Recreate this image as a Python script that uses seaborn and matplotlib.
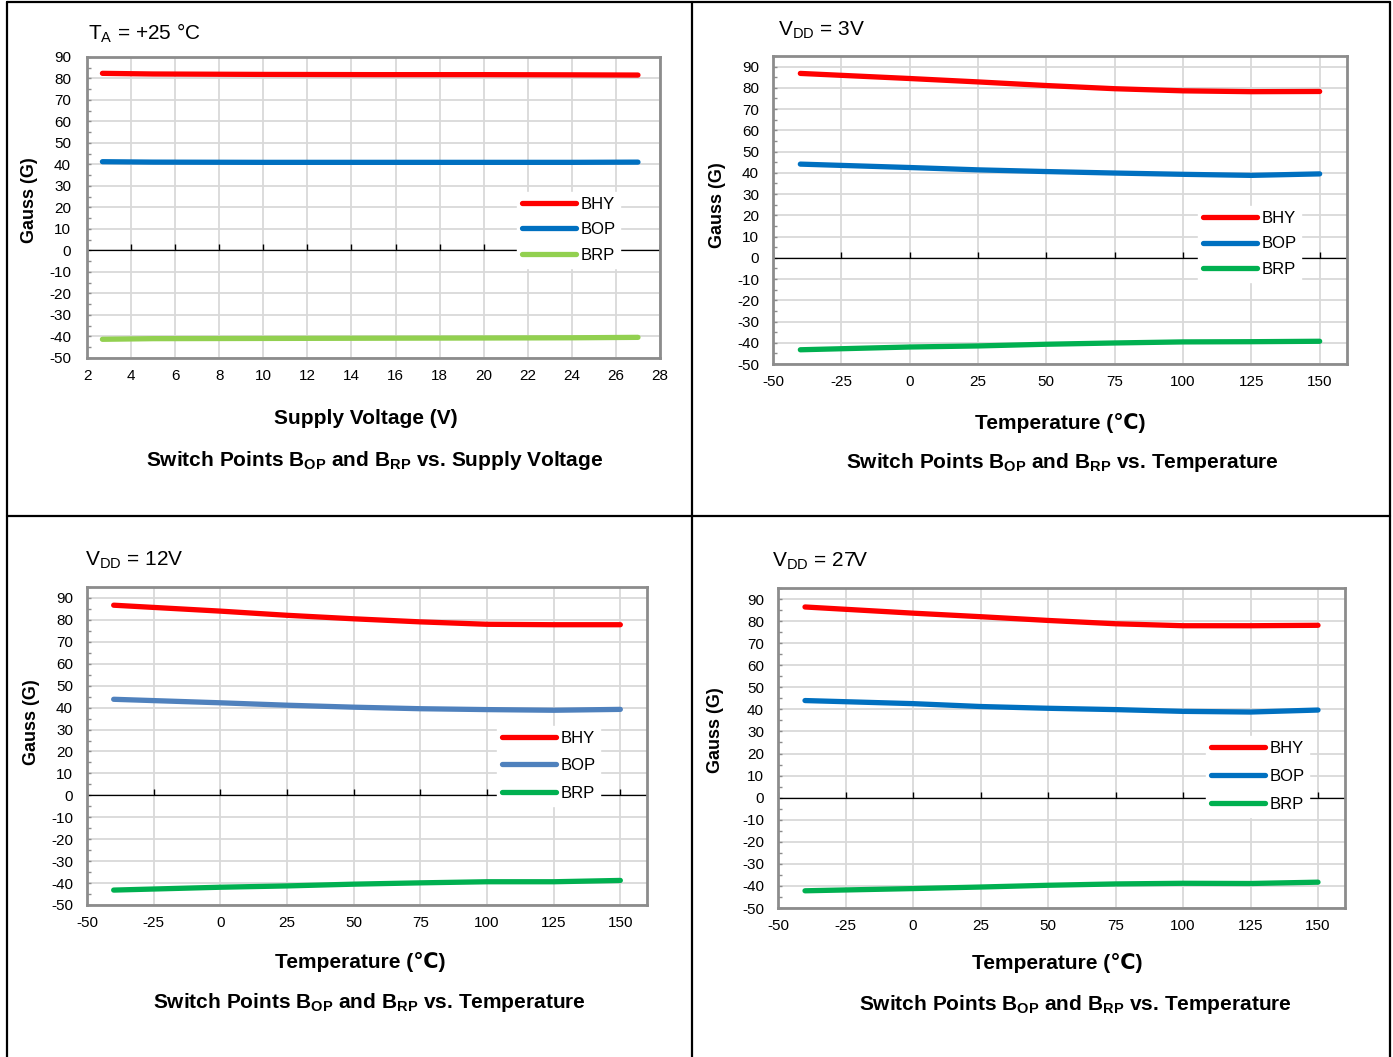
import matplotlib
matplotlib.use("Agg")
import matplotlib.pyplot as plt
import seaborn as sns
import pandas as pd
from matplotlib.lines import Line2D

# Switch points vs supply voltage (TA = +25 C)
volt = [2.7, 5, 10, 15, 20, 24, 27]
bhy_volt = [82.4, 82.1, 81.9, 81.8, 81.8, 81.7, 81.6]
bop_volt = [41.3, 41.1, 41.0, 41.0, 41.0, 41.0, 41.1]
brp_volt = [-41.3, -41.0, -40.9, -40.8, -40.7, -40.6, -40.4]

# Switch points vs temperature
temp = [-40, 0, 25, 50, 75, 100, 125, 150]
bhy_3v = [86.8, 84.4, 82.8, 81.1, 79.6, 78.6, 78.2, 78.3]
bop_3v = [44.1, 42.5, 41.4, 40.6, 39.9, 39.3, 38.8, 39.5]
brp_3v = [-43.3, -42.0, -41.5, -40.7, -40.1, -39.6, -39.5, -39.3]

bhy_12v = [86.7, 84.0, 82.1, 80.5, 79.1, 78.0, 77.8, 77.8]
bop_12v = [43.8, 42.2, 41.1, 40.2, 39.5, 39.1, 38.8, 39.2]
brp_12v = [-43.2, -41.9, -41.3, -40.5, -39.9, -39.4, -39.4, -38.8]

bhy_27v = [86.4, 83.6, 82.0, 80.3, 78.8, 77.9, 77.9, 78.1]
bop_27v = [44.0, 42.6, 41.3, 40.5, 39.9, 39.1, 38.8, 39.7]
brp_27v = [-42.2, -41.2, -40.5, -39.7, -39.1, -38.8, -38.9, -38.3]

series = ["BHY", "BOP", "BRP"]
volt_ticks = list(range(2, 29, 2))
temp_ticks = list(range(-50, 151, 25))
gauss_ticks = list(range(-50, 91, 10))

W, H = 1393, 1057


def fx(px):
    return px / W


def fy(py):
    return 1 - py / H


def make_df(x, vals):
    rows = []
    for name, v in zip(series, vals):
        for xi, yi in zip(x, v):
            rows.append({"x": xi, "G": yi, "series": name})
    return pd.DataFrame(rows)


sns.set_theme(style="white")
plt.rcParams["font.family"] = ["Liberation Sans", "DejaVu Sans"]
plt.rcParams["mathtext.fontset"] = "custom"
plt.rcParams["mathtext.rm"] = "Liberation Sans"
plt.rcParams["mathtext.it"] = "Liberation Sans:italic"
plt.rcParams["mathtext.bf"] = "Liberation Sans:bold"
plt.rcParams["axes.unicode_minus"] = False
plt.rcParams["text.color"] = "black"
plt.rcParams["axes.labelcolor"] = "black"
plt.rcParams["xtick.color"] = "black"
plt.rcParams["ytick.color"] = "black"

fig = plt.figure(figsize=(W / 100, H / 100), dpi=100)
fig.patch.set_facecolor("white")

panels = [
    dict(box=(87, 660, 57, 358), x=volt, vals=[bhy_volt, bop_volt, brp_volt],
         colors=["#FF0000", "#0070C0", "#92D050"], xlim=(2, 28), xticks=volt_ticks, ytop=90,
         corner="T$_\\mathrm{A}$ = +25 °C", corner_xy=(88, 33),
         xlabel="Supply Voltage (V)", xlabel_xy=(366, 418),
         cap="Switch Points B$_\\mathbf{OP}$ and B$_\\mathbf{RP}$ vs. Supply Voltage", cap_xy=(375, 461),
         ylabel_xy=(29, 200), leg=(522, 192), lspace=0.62, ypad=11.5),
    dict(box=(773, 1347, 56, 364), x=temp, vals=[bhy_3v, bop_3v, brp_3v],
         colors=["#FF0000", "#0070C0", "#00B050"], xlim=(-50, 160), xticks=temp_ticks, ytop=95,
         corner="V$_\\mathrm{DD}$ = 3V", corner_xy=(778, 30),
         xlabel="Temperature (℃)", xlabel_xy=(1060, 423),
         cap="Switch Points B$_\\mathbf{OP}$ and B$_\\mathbf{RP}$ vs. Temperature", cap_xy=(1062, 463),
         ylabel_xy=(718, 205), leg=(1203, 206), lspace=0.62, ypad=10),
    dict(box=(87, 647, 587, 905), x=temp, vals=[bhy_12v, bop_12v, brp_12v],
         colors=["#FF0000", "#4F81BD", "#00B050"], xlim=(-50, 160), xticks=temp_ticks, ytop=95,
         corner="V$_\\mathrm{DD}$ = 12V", corner_xy=(85, 560),
         xlabel="Temperature (℃)", xlabel_xy=(360, 962),
         cap="Switch Points B$_\\mathbf{OP}$ and B$_\\mathbf{RP}$ vs. Temperature", cap_xy=(369, 1003),
         ylabel_xy=(31, 722), leg=(502, 726), lspace=0.74, ypad=10),
    dict(box=(778, 1345, 588, 908), x=temp, vals=[bhy_27v, bop_27v, brp_27v],
         colors=["#FF0000", "#0070C0", "#00B050"], xlim=(-50, 160), xticks=temp_ticks, ytop=95,
         corner="V$_\\mathrm{DD}$ = 27V", corner_xy=(772, 561),
         xlabel="Temperature (℃)", xlabel_xy=(1057, 963),
         cap="Switch Points B$_\\mathbf{OP}$ and B$_\\mathbf{RP}$ vs. Temperature", cap_xy=(1075, 1004),
         ylabel_xy=(716, 730), leg=(1211, 736), lspace=0.77, ypad=10),
]

fs_tick = 11
fs_leg = 12
for p in panels:
    l, r, t, b = p["box"]
    ax = fig.add_axes([fx(l), fy(b), (r - l) / W, (b - t) / H])
    df = make_df(p["x"], p["vals"])
    sns.lineplot(data=df, x="x", y="G", hue="series", palette=dict(zip(series, p["colors"])),
                 linewidth=3.8, solid_capstyle="round", sort=False, ax=ax, zorder=3)
    ax.set_xlim(*p["xlim"])
    ax.set_ylim(-50, p["ytop"])
    ax.set_xticks(p["xticks"])
    ax.set_yticks(gauss_ticks)
    ax.set_yticks(range(-50, p["ytop"] + 1, 5), minor=True)
    ax.grid(True, which="major", color="#D9D9D9", lw=1.3, zorder=0)
    ax.set_axisbelow(True)
    for s in ax.spines.values():
        s.set_color("#8C8C8C")
        s.set_linewidth(2.0)
    ax.tick_params(axis="x", length=0, pad=8, labelsize=fs_tick, labelcolor="black")
    ax.tick_params(axis="y", which="both", direction="in", length=3, width=1, color="#8C8C8C",
                   pad=p["ypad"], labelsize=fs_tick, labelcolor="black", left=True)
    # horizontal axis drawn at zero with small tick marks
    ax.axhline(0, color="black", lw=0.9, zorder=2.5)
    ax.plot(p["xticks"], [0] * len(p["xticks"]), ls="none", marker=2, ms=4, mew=1,
            color="black", zorder=2.5)

    ax.set_xlabel(p["xlabel"], fontsize=15, fontweight="bold", va="center")
    ax.xaxis.set_label_coords(fx(p["xlabel_xy"][0]), fy(p["xlabel_xy"][1]), transform=fig.transFigure)
    ax.set_ylabel("Gauss (G)", fontsize=13, fontweight="bold", va="center")
    ax.yaxis.set_label_coords(fx(p["ylabel_xy"][0]), fy(p["ylabel_xy"][1]), transform=fig.transFigure)

    fig.text(fx(p["corner_xy"][0]), fy(p["corner_xy"][1]), p["corner"], fontsize=15,
             ha="left", va="center")
    fig.text(fx(p["cap_xy"][0]), fy(p["cap_xy"][1]), p["cap"], fontsize=15, fontweight="bold",
             ha="center", va="center")

    handles, labels = ax.get_legend_handles_labels()
    pad = 0.3
    lx = p["leg"][0] - pad * fs_leg * 100 / 72
    leg = ax.legend(handles, labels, loc="upper left",
                    bbox_to_anchor=(fx(lx), fy(p["leg"][1])), bbox_transform=fig.transFigure,
                    frameon=True, fancybox=False, facecolor="white", edgecolor="white",
                    framealpha=1, fontsize=fs_leg, borderpad=pad, handlelength=3.25,
                    handletextpad=0.25, labelspacing=p["lspace"], borderaxespad=0)
    for h in leg.get_lines():
        h.set_linewidth(3.8)
        h.set_solid_capstyle("round")
    for txt in leg.get_texts():
        txt.set_color("black")
    leg.set_zorder(5)

# table borders
border = dict(color="black", lw=1.6, transform=fig.transFigure)
fig.add_artist(Line2D([fx(7), fx(1389.5)], [fy(2), fy(2)], **border))
fig.add_artist(Line2D([fx(7), fx(1389.5)], [fy(516), fy(516)], **border))
for xx in (7, 691.5, 1389.5):
    fig.add_artist(Line2D([fx(xx), fx(xx)], [fy(2), fy(1057)], **border))

fig.savefig("out.png", dpi=100)
